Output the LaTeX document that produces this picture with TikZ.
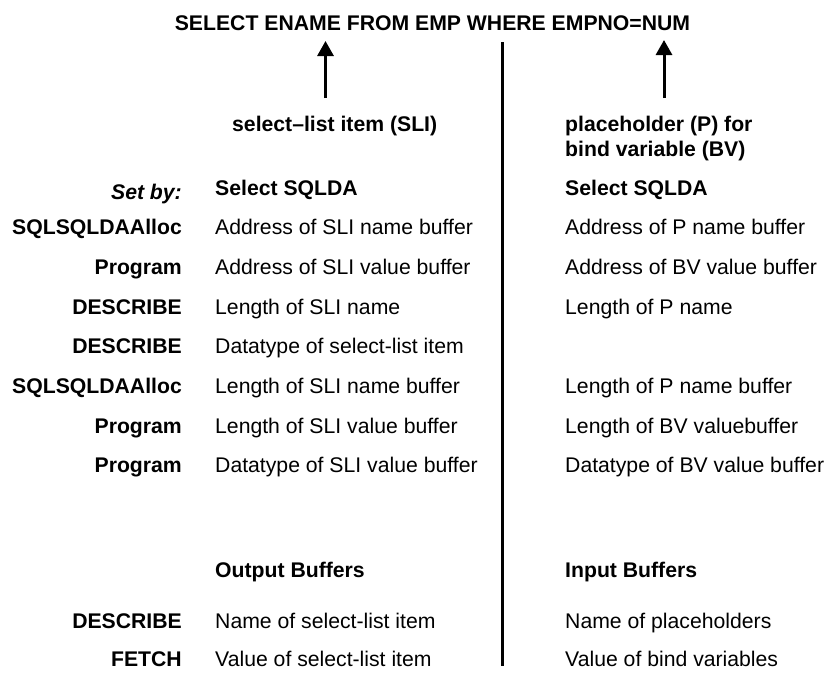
\documentclass[tikz,border=0pt]{standalone}
\usepackage{fontspec}
\setmainfont{Liberation Sans}
\usetikzlibrary{arrows.meta}
\begin{document}
\begin{tikzpicture}[x=1pt,y=-1pt,
  txt/.style={inner sep=0pt, font=\fontsize{21.2}{25}\selectfont},
  lbl/.style={txt, anchor=base east, font=\fontsize{21.2}{25}\selectfont\bfseries},
  item/.style={txt, anchor=base west},
  head/.style={txt, anchor=base west, font=\fontsize{21.2}{25}\selectfont\bfseries},
  divider/.style={line width=3pt},
  uparrow/.style={line width=3pt, -{Triangle[width=16pt,length=15pt]}}]
\useasboundingbox (0,0) rectangle (826,673);
% title
\node[txt, anchor=base, font=\fontsize{21.2}{25}\selectfont\bfseries] (title) at (432.5,30) {SELECT ENAME FROM EMP WHERE EMPNO=NUM};
% headings
\node[head] (sli) at (232,131) {select--list item (SLI)};
\node[head] (ph1) at (565,131) {placeholder (P) for};
\node[head] (ph2) at (565,156) {bind variable (BV)};
% arrows
\coordinate (a1s) at (325.5,98);
\coordinate (a1e) at (325.5,41);
\coordinate (a2s) at (664,98);
\coordinate (a2e) at (664,40);
\draw[uparrow] (a1s) -- (a1e);
\draw[uparrow] (a2s) -- (a2e);
% divider
\coordinate (dtop) at (502,42);
\coordinate (dbot) at (502,666);
\draw[divider] (dtop) -- (dbot);
% set by
\node[lbl, font=\fontsize{21.2}{25}\selectfont\bfseries\itshape] (setby) at (182,199) {Set by:};
\node[head] (sqlda1) at (215,195) {Select SQLDA};
\node[head] (sqlda2) at (565,195) {Select SQLDA};
% rows
\node[lbl] (l1) at (182,234) {SQLSQLDAAlloc};
\node[item] (m1) at (215,234) {Address of SLI name buffer};
\node[item] (r1) at (565,234) {Address of P name buffer};
\node[lbl] (l2) at (182,274) {Program};
\node[item] (m2) at (215,274) {Address of SLI value buffer};
\node[item] (r2) at (565,274) {Address of BV value buffer};
\node[lbl] (l3) at (182,314) {DESCRIBE};
\node[item] (m3) at (215,314) {Length of SLI name};
\node[item] (r3) at (565,314) {Length of P name};
\node[lbl] (l4) at (182,353) {DESCRIBE};
\node[item] (m4) at (215,353) {Datatype of select-list item};
\node[lbl] (l5) at (182,393) {SQLSQLDAAlloc};
\node[item] (m5) at (215,393) {Length of SLI name buffer};
\node[item] (r5) at (565,393) {Length of P name buffer};
\node[lbl] (l6) at (182,433) {Program};
\node[item] (m6) at (215,433) {Length of SLI value buffer};
\node[item] (r6) at (565,433) {Length of BV valuebuffer};
\node[lbl] (l7) at (182,472) {Program};
\node[item] (m7) at (215,472) {Datatype of SLI value buffer};
\node[item] (r7) at (565,472) {Datatype of BV value buffer};
% buffers
\node[head] (ob) at (215,577) {Output Buffers};
\node[head] (ib) at (565,577) {Input Buffers};
\node[lbl] (l8) at (182,628) {DESCRIBE};
\node[item] (m8) at (215,628) {Name of select-list item};
\node[item] (r8) at (565,628) {Name of placeholders};
\node[lbl] (l9) at (182,666) {FETCH};
\node[item] (m9) at (215,666) {Value of select-list item};
\node[item] (r9) at (565,666) {Value of bind variables};
\end{tikzpicture}
\end{document}
